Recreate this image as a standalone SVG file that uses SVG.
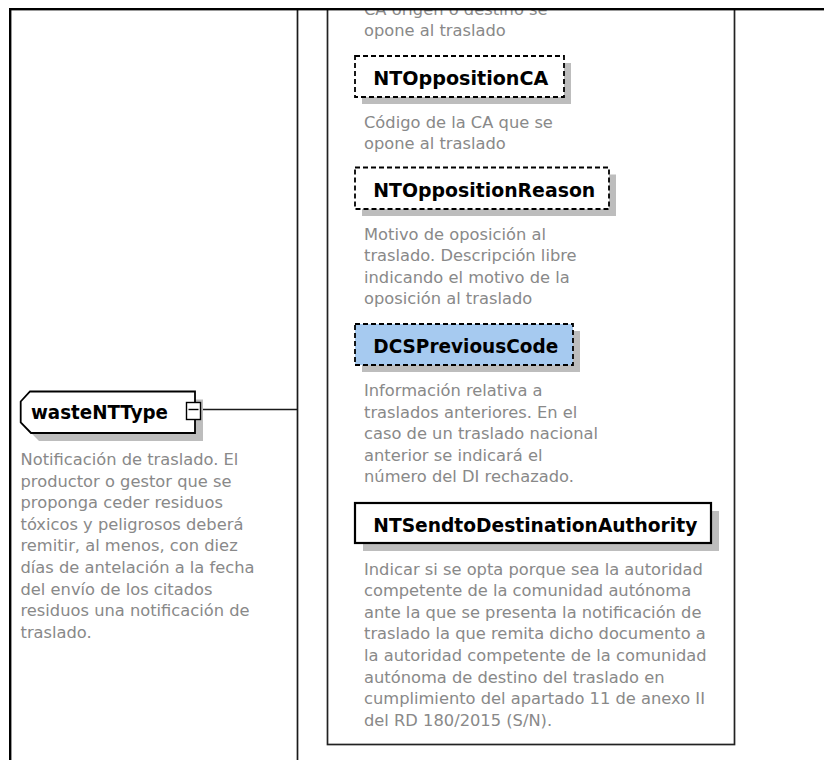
<svg xmlns="http://www.w3.org/2000/svg" width="824" height="760" viewBox="0 0 824 760">
<style>
.lbl{font-family:"DejaVu Sans",Verdana,sans-serif;font-weight:bold;font-size:20px;fill:#000}
.desc{font-family:"DejaVu Sans",Verdana,sans-serif;font-size:16.3px;fill:#898989}
.box{fill:#fff;stroke:#000;stroke-width:1.8}
.opt{stroke-dasharray:5,3}
.shadow{fill:#bdbdbd}
.line{stroke:#1a1a1a;stroke-width:1.7;fill:none}
</style>
<defs>
<clipPath id="clip"><rect x="0" y="10" width="824" height="750"/></clipPath>
</defs>
<rect x="0" y="0" width="824" height="760" fill="#fff"/>
<g clip-path="url(#clip)">
<g id="connectors">
<line class="line" x1="297.5" y1="8" x2="297.5" y2="760"/>
<line class="line" x1="200" y1="409.5" x2="297.5" y2="409.5"/>
</g>
<g id="sequence">
<rect x="327.5" y="-20" width="407" height="764.5" fill="none" stroke="#222" stroke-width="1.7"/>
<text class="desc" x="364" y="14.5">CA origen o destino se</text>
<text class="desc" x="364" y="36">opone al traslado</text>
</g>
<g id="wasteNTType">
<polygon class="shadow" points="38,399.5 203,399.5 203,441 39,441 28.7,430.5 28.7,409.5"/>
<polygon class="box" points="30,391.5 195,391.5 195,433 31,433 20.7,422.5 20.7,401.5"/>
<text class="lbl" x="31" y="419" textLength="137" lengthAdjust="spacingAndGlyphs">wasteNTType</text>
<rect x="186.5" y="402.5" width="14" height="17" fill="#fff" stroke="#000" stroke-width="1.4"/>
<line x1="188.5" y1="409.5" x2="198.5" y2="409.5" stroke="#000" stroke-width="1.4"/>
<text class="desc" x="20.5" y="465">Notificación de traslado. El</text>
<text class="desc" x="20.5" y="486.6">productor o gestor que se</text>
<text class="desc" x="20.5" y="508.2">proponga ceder residuos</text>
<text class="desc" x="20.5" y="529.8">tóxicos y peligrosos deberá</text>
<text class="desc" x="20.5" y="551.4">remitir, al menos, con diez</text>
<text class="desc" x="20.5" y="573">días de antelación a la fecha</text>
<text class="desc" x="20.5" y="594.6">del envío de los citados</text>
<text class="desc" x="20.5" y="616.2">residuos una notificación de</text>
<text class="desc" x="20.5" y="637.8">traslado.</text>
</g>
<g id="NTOppositionCA">
<rect class="shadow" x="362" y="63" width="209" height="41"/>
<rect class="box opt" x="355" y="56" width="209" height="41"/>
<text class="lbl" x="373.3" y="84.5" textLength="175" lengthAdjust="spacingAndGlyphs">NTOppositionCA</text>
<text class="desc" x="364" y="127.5">Código de la CA que se</text>
<text class="desc" x="364" y="149">opone al traslado</text>
</g>
<g id="NTOppositionReason">
<rect class="shadow" x="362" y="174.5" width="254" height="41.5"/>
<rect class="box opt" x="355" y="167.5" width="254" height="41.5"/>
<text class="lbl" x="373.3" y="196.5" textLength="222" lengthAdjust="spacingAndGlyphs">NTOppositionReason</text>
<text class="desc" x="364" y="239.5">Motivo de oposición al</text>
<text class="desc" x="364" y="261">traslado. Descripción libre</text>
<text class="desc" x="364" y="282.6">indicando el motivo de la</text>
<text class="desc" x="364" y="304.2">oposición al traslado</text>
</g>
<g id="DCSPreviousCode">
<rect class="shadow" x="362" y="331" width="218" height="41"/>
<rect class="box opt" x="355" y="324" width="218" height="41" style="fill:#a6caf0"/>
<text class="lbl" x="373.3" y="352.8" textLength="185" lengthAdjust="spacingAndGlyphs">DCSPreviousCode</text>
<text class="desc" x="364" y="396">Información relativa a</text>
<text class="desc" x="364" y="417.6">traslados anteriores. En el</text>
<text class="desc" x="364" y="439.2">caso de un traslado nacional</text>
<text class="desc" x="364" y="460.8">anterior se indicará el</text>
<text class="desc" x="364" y="482.4">número del DI rechazado.</text>
</g>
<g id="NTSendtoDestinationAuthority">
<rect class="shadow" x="363" y="511" width="356" height="40"/>
<rect class="box" x="355" y="503" width="356" height="40" style="stroke-width:2.2"/>
<text class="lbl" x="373.3" y="532" textLength="324" lengthAdjust="spacingAndGlyphs">NTSendtoDestinationAuthority</text>
<text class="desc" x="364" y="574.5">Indicar si se opta porque sea la autoridad</text>
<text class="desc" x="364" y="596">competente de la comunidad autónoma</text>
<text class="desc" x="364" y="617.7">ante la que se presenta la notificación de</text>
<text class="desc" x="364" y="639.3">traslado la que remita dicho documento a</text>
<text class="desc" x="364" y="660.9">la autoridad competente de la comunidad</text>
<text class="desc" x="364" y="682.5">autónoma de destino del traslado en</text>
<text class="desc" x="364" y="704">cumplimiento del apartado 11 de anexo II</text>
<text class="desc" x="364" y="725.7">del RD 180/2015 (S/N).</text>
</g>
</g>
<g id="frame">
<rect x="9" y="8" width="815" height="2.4" fill="#000"/>
<rect x="9" y="8" width="2.4" height="752" fill="#000"/>
</g>
</svg>
